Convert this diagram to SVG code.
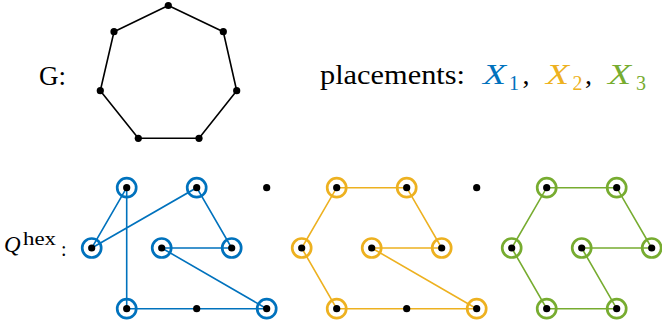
<svg xmlns="http://www.w3.org/2000/svg" width="662" height="329" viewBox="0 0 662 329">
<style>
.t{font-family:"Liberation Serif","Times New Roman",serif;fill:#000}
.i{font-style:italic}
.dot{fill:#000}
.hep{fill:none;stroke:#000;stroke-width:1.6;stroke-linejoin:round}
.e1{stroke:#0072BD;stroke-width:1.6;fill:none}
.e2{stroke:#EDB120;stroke-width:1.6;fill:none}
.e3{stroke:#77AC30;stroke-width:1.6;fill:none}
.c1{fill:none;stroke:#0072BD;stroke-width:2.7}
.c2{fill:none;stroke:#EDB120;stroke-width:2.7}
.c3{fill:none;stroke:#77AC30;stroke-width:2.7}
</style>
<rect width="662" height="329" fill="#fff"/>

<g id="labels">
<text class="t" x="39" y="85" font-size="27">G:</text>
<text class="t" x="320" y="83.5" font-size="28" textLength="145" lengthAdjust="spacingAndGlyphs">placements:</text>
<text class="t i" x="483" y="83.5" font-size="30" style="fill:#0072BD" textLength="23" lengthAdjust="spacingAndGlyphs">X</text>
<text class="t" x="509" y="89.5" font-size="20" style="fill:#0072BD">1</text>
<text class="t" x="522.5" y="83.5" font-size="28">,</text>
<text class="t i" x="546" y="83.5" font-size="30" style="fill:#EDB120" textLength="23" lengthAdjust="spacingAndGlyphs">X</text>
<text class="t" x="572.5" y="89.5" font-size="20" style="fill:#EDB120">2</text>
<text class="t" x="585" y="83.5" font-size="28">,</text>
<text class="t i" x="608" y="83.5" font-size="30" style="fill:#77AC30" textLength="23" lengthAdjust="spacingAndGlyphs">X</text>
<text class="t" x="636" y="89.5" font-size="20" style="fill:#77AC30">3</text>
<text class="t i" x="4" y="252" font-size="23">Q</text>
<text class="t" x="23" y="244.5" font-size="18" textLength="33" lengthAdjust="spacingAndGlyphs">hex</text>
<text class="t" x="61" y="255.5" font-size="20">:</text>
</g>

<g id="G">
<polygon class="hep" points="168.3,5.5 223.3,31.7 236.7,90.7 199,138.3 138.3,138.3 100.3,90.7 114,31.7"/>
<circle class="dot" cx="168.3" cy="5.5" r="3.6"/>
<circle class="dot" cx="223.3" cy="31.7" r="3.6"/>
<circle class="dot" cx="236.7" cy="90.7" r="3.6"/>
<circle class="dot" cx="199" cy="138.3" r="3.6"/>
<circle class="dot" cx="138.3" cy="138.3" r="3.6"/>
<circle class="dot" cx="100.3" cy="90.7" r="3.6"/>
<circle class="dot" cx="114" cy="31.7" r="3.6"/>
</g>

<g id="connectors">
<polygon class="e1" points="126.7,187.7 91.7,248 196.7,187.7 231.7,248 161.7,248 266.7,308.7 126.7,308.7"/>
<polygon class="e2" points="336.7,187.7 406.7,187.7 441.7,248 371.7,248 476.7,308.7 336.7,308.7 301.7,248"/>
<polygon class="e3" points="546.7,187.7 616.7,187.7 651.7,248 581.7,248 616.7,308.7 546.7,308.7 511.7,248"/>
</g>

<g id="X1">
<circle class="c1" cx="126.7" cy="187.7" r="9.5"/>
<circle class="c1" cx="196.7" cy="187.7" r="9.5"/>
<circle class="c1" cx="91.7" cy="248" r="9.5"/>
<circle class="c1" cx="161.7" cy="248" r="9.5"/>
<circle class="c1" cx="231.7" cy="248" r="9.5"/>
<circle class="c1" cx="126.7" cy="308.7" r="9.5"/>
<circle class="c1" cx="266.7" cy="308.7" r="9.5"/>
<circle class="dot" cx="126.7" cy="187.7" r="3.6"/>
<circle class="dot" cx="196.7" cy="187.7" r="3.6"/>
<circle class="dot" cx="266.7" cy="187.7" r="3.6"/>
<circle class="dot" cx="91.7" cy="248" r="3.6"/>
<circle class="dot" cx="161.7" cy="248" r="3.6"/>
<circle class="dot" cx="231.7" cy="248" r="3.6"/>
<circle class="dot" cx="126.7" cy="308.7" r="3.6"/>
<circle class="dot" cx="196.7" cy="308.7" r="3.6"/>
<circle class="dot" cx="266.7" cy="308.7" r="3.6"/>
</g>

<g id="X2">
<circle class="c2" cx="336.7" cy="187.7" r="9.5"/>
<circle class="c2" cx="406.7" cy="187.7" r="9.5"/>
<circle class="c2" cx="301.7" cy="248" r="9.5"/>
<circle class="c2" cx="371.7" cy="248" r="9.5"/>
<circle class="c2" cx="441.7" cy="248" r="9.5"/>
<circle class="c2" cx="336.7" cy="308.7" r="9.5"/>
<circle class="c2" cx="476.7" cy="308.7" r="9.5"/>
<circle class="dot" cx="336.7" cy="187.7" r="3.6"/>
<circle class="dot" cx="406.7" cy="187.7" r="3.6"/>
<circle class="dot" cx="476.7" cy="187.7" r="3.6"/>
<circle class="dot" cx="301.7" cy="248" r="3.6"/>
<circle class="dot" cx="371.7" cy="248" r="3.6"/>
<circle class="dot" cx="441.7" cy="248" r="3.6"/>
<circle class="dot" cx="336.7" cy="308.7" r="3.6"/>
<circle class="dot" cx="406.7" cy="308.7" r="3.6"/>
<circle class="dot" cx="476.7" cy="308.7" r="3.6"/>
</g>

<g id="X3">
<circle class="c3" cx="546.7" cy="187.7" r="9.5"/>
<circle class="c3" cx="616.7" cy="187.7" r="9.5"/>
<circle class="c3" cx="511.7" cy="248" r="9.5"/>
<circle class="c3" cx="581.7" cy="248" r="9.5"/>
<circle class="c3" cx="651.7" cy="248" r="9.5"/>
<circle class="c3" cx="546.7" cy="308.7" r="9.5"/>
<circle class="c3" cx="616.7" cy="308.7" r="9.5"/>
<circle class="dot" cx="546.7" cy="187.7" r="3.6"/>
<circle class="dot" cx="616.7" cy="187.7" r="3.6"/>
<circle class="dot" cx="511.7" cy="248" r="3.6"/>
<circle class="dot" cx="581.7" cy="248" r="3.6"/>
<circle class="dot" cx="651.7" cy="248" r="3.6"/>
<circle class="dot" cx="546.7" cy="308.7" r="3.6"/>
<circle class="dot" cx="616.7" cy="308.7" r="3.6"/>
</g>
</svg>
